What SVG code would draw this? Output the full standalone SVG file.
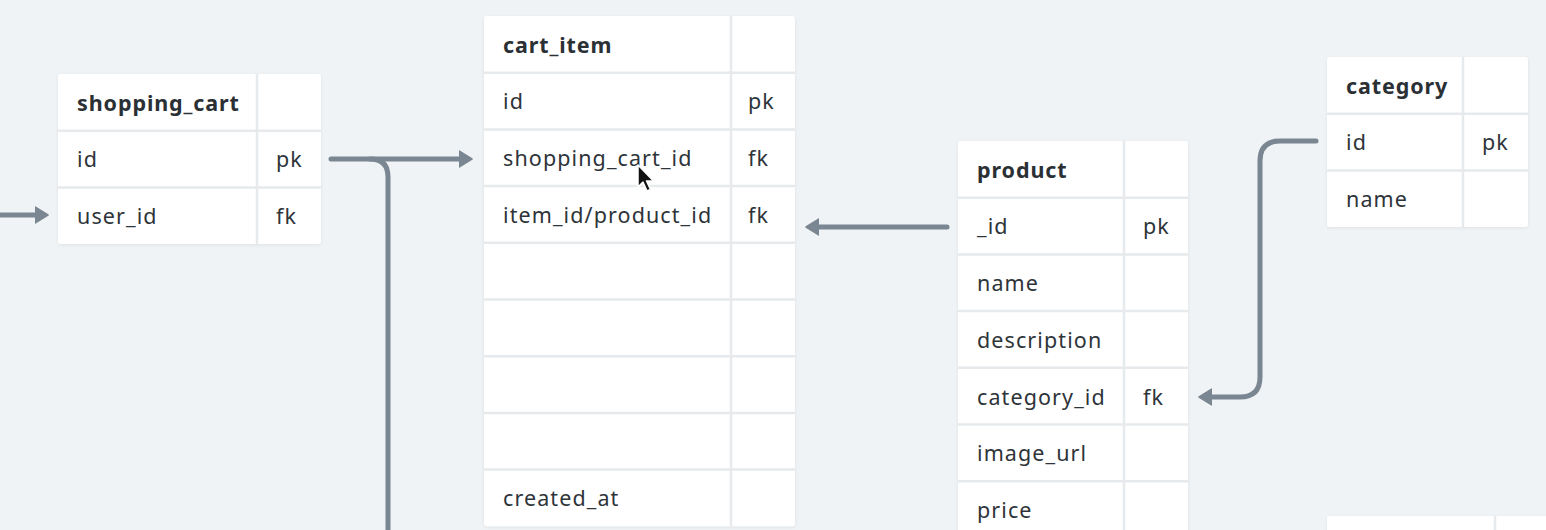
<svg xmlns="http://www.w3.org/2000/svg" width="1546" height="530" viewBox="0 0 1546 530">
<style>
.bg{fill:#eff3f5}
.tbl{fill:#ffffff;filter:url(#sh)}
.ln{stroke:#e6eaec;stroke-width:2.5;fill:none}
.h{font-family:"Noto Sans","DejaVu Sans",sans-serif;font-weight:bold;font-size:21.5px;letter-spacing:0.9px;fill:#2b3035}
.f{font-family:"Noto Sans","DejaVu Sans",sans-serif;font-size:21.5px;letter-spacing:1.1px;fill:#2e3439}
.c{stroke:#7a8691;stroke-width:5;fill:none;stroke-linecap:round;stroke-linejoin:round}
</style>
<defs>
<filter id="sh" x="-10%" y="-10%" width="120%" height="120%">
<feDropShadow dx="0" dy="1" stdDeviation="1.5" flood-color="#000" flood-opacity="0.07"/>
</filter>
<marker id="ah" markerUnits="userSpaceOnUse" markerWidth="16" markerHeight="18" refX="1" refY="9" orient="auto">
<path d="M0,1 L13,9 L0,17 Z" fill="#7a8691" stroke="#7a8691" stroke-width="1.5" stroke-linejoin="round"/>
</marker>
</defs>
<rect class="bg" x="0" y="0" width="1546" height="530"/>

<g id="connectors">
<path class="c" d="M0 215 L36 215" marker-end="url(#ah)"/>
<path class="c" d="M331 159 L460 159" marker-end="url(#ah)"/>
<path class="c" d="M370 159 Q388 159 388 177 L388 532"/>
<path class="c" d="M947 227 L818 227" marker-end="url(#ah)"/>
<path class="c" d="M1316 141 L1280 141 Q1260 141 1260 161 L1260 377 Q1260 397 1240 397 L1211 397" marker-end="url(#ah)"/>
</g>

<g id="shopping_cart" transform="translate(58,74)">
<rect class="tbl" x="0" y="0" width="263" height="170.1" rx="3"/>
<path class="ln" d="M199 0 V170.1 M0 56.7 H263 M0 113.4 H263"/>
<text class="h" x="19" y="37">shopping_cart</text>
<text class="f" x="19" y="93">id</text>
<text class="f" x="218" y="93">pk</text>
<text class="f" x="19" y="150">user_id</text>
<text class="f" x="218" y="150">fk</text>
</g>

<g id="cart_item" transform="translate(484,16)">
<rect class="tbl" x="0" y="0" width="311" height="510.3" rx="3"/>
<path class="ln" d="M247 0 V510.3 M0 56.7 H311 M0 113.4 H311 M0 170.1 H311 M0 226.8 H311 M0 283.5 H311 M0 340.2 H311 M0 396.9 H311 M0 453.6 H311"/>
<text class="h" x="19" y="37">cart_item</text>
<text class="f" x="19" y="93">id</text>
<text class="f" x="264" y="93">pk</text>
<text class="f" x="19" y="150">shopping_cart_id</text>
<text class="f" x="264" y="150">fk</text>
<text class="f" x="19" y="207">item_id/product_id</text>
<text class="f" x="264" y="207">fk</text>
<text class="f" x="19" y="490">created_at</text>
</g>

<g id="product" transform="translate(958,141)">
<rect class="tbl" x="0" y="0" width="230" height="397" rx="3"/>
<path class="ln" d="M166 0 V397 M0 56.7 H230 M0 113.4 H230 M0 170.1 H230 M0 226.8 H230 M0 283.5 H230 M0 340.2 H230"/>
<text class="h" x="19" y="37">product</text>
<text class="f" x="19" y="93">_id</text>
<text class="f" x="185" y="93">pk</text>
<text class="f" x="19" y="150">name</text>
<text class="f" x="19" y="207">description</text>
<text class="f" x="19" y="264">category_id</text>
<text class="f" x="185" y="264">fk</text>
<text class="f" x="19" y="320">image_url</text>
<text class="f" x="19" y="377">price</text>
</g>

<g id="category" transform="translate(1327,57)">
<rect class="tbl" x="0" y="0" width="201" height="170.1" rx="3"/>
<path class="ln" d="M136 0 V170.1 M0 56.7 H201 M0 113.4 H201"/>
<text class="h" x="19" y="37">category</text>
<text class="f" x="19" y="93">id</text>
<text class="f" x="155" y="93">pk</text>
<text class="f" x="19" y="150">name</text>
</g>

<g id="table_bottom_right" transform="translate(1327,516)">
<rect class="tbl" x="0" y="0" width="260" height="60" rx="3"/>
<path class="ln" d="M168 0 V60"/>
</g>

<g id="cursor" transform="translate(638,165)">
<path d="M0 0 L0 22 L5 17 L9 26 L12.5 24.5 L8.5 16 L15.5 16 Z" fill="#111" stroke="#fff" stroke-width="1.5" stroke-linejoin="round"/>
</g>
</svg>
